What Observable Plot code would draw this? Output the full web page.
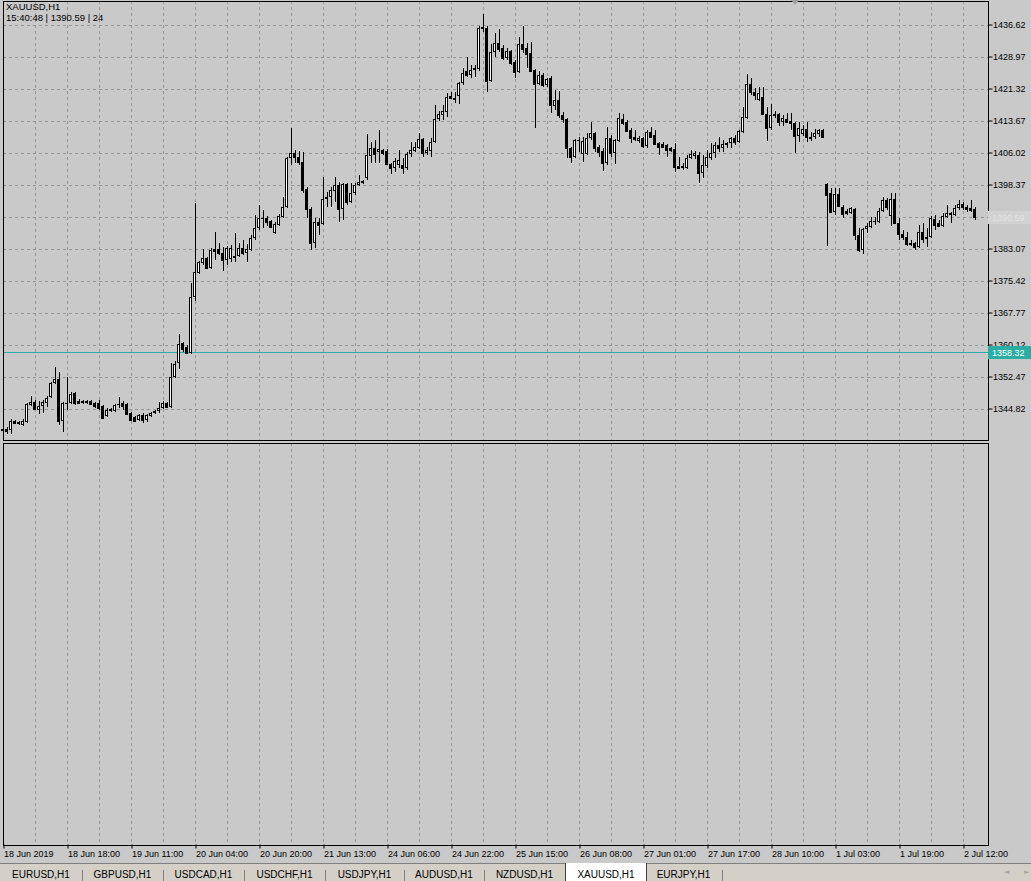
<!DOCTYPE html>
<html>
<head>
<meta charset="utf-8">
<script src="https://cdn.jsdelivr.net/npm/d3@7"></script>
<script src="https://cdn.jsdelivr.net/npm/@observablehq/plot@0.6"></script>
<style>
  html, body { margin:0; padding:0; background:#c9c9c9; }
  #wrap { position:relative; width:1031px; height:881px; overflow:hidden; background:#c9c9c9; font-family:"Liberation Sans", Arial, sans-serif; }
  #main { position:absolute; left:0; top:0; }
  #sub { position:absolute; left:0; top:442px; }
  .info { position:absolute; left:6px; font-size:9.5px; line-height:11px; color:#000; white-space:pre; }
  #tabs { position:absolute; left:0; top:863px; width:1031px; height:18px; background:#d4d0c8; border-top:1px solid #808080; }
  .tab { position:absolute; top:0; height:18px; font-size:10px; line-height:22px; text-align:center; color:#000; }
  .tab.active { background:#fff; top:-1px; height:19px; line-height:24px; border-left:1px solid #404040; border-right:1px solid #404040; }
  .sep { position:absolute; top:6px; width:1px; height:12px; background:#808080; }
  .arrow { position:absolute; top:4px; font-family:"DejaVu Sans", sans-serif; font-size:7px; color:#a8a8a8; }
  #shift { position:absolute; left:791px; top:0; width:0; height:0; border-left:4px solid transparent; border-right:4px solid transparent; border-top:5px solid #a0a0a0; }
</style>
</head>
<body>
<div id="wrap">
  <div id="main"></div>
  <div id="sub"></div>
  <div id="shift"></div>
  <div class="info" style="top:1px">XAUUSD,H1</div>
  <div class="info" style="top:12px">15:40:48 | 1390.59 | 24</div>
  <div id="tabs"></div>
</div>
<script>
// ---- data (XAUUSD H1, bars 18 Jun 2019 02:00 .. 2 Jul 2019 15:00) ----
const open = [1339.55,1340.02,1339.79,1341.93,1341.69,1340.98,1341.69,1345.75,1346.46,1344.56,1345.51,1346.22,1347.66,1351.00,1351.95,1341.93,1345.99,1346.22,1348.61,1346.70,1346.22,1346.22,1346.70,1346.22,1346.22,1345.51,1343.13,1344.32,1344.32,1345.75,1346.22,1345.99,1343.84,1342.89,1342.17,1343.37,1342.17,1343.13,1343.84,1344.32,1345.03,1346.22,1345.27,1352.43,1355.77,1360.53,1359.58,1358.15,1371.51,1377.24,1379.61,1380.81,1378.43,1382.96,1382.96,1382.00,1380.33,1380.57,1381.29,1381.29,1383.19,1382.00,1382.72,1385.58,1387.96,1390.11,1390.35,1389.63,1386.77,1388.68,1390.59,1392.97,1404.66,1405.85,1404.90,1403.70,1397.27,1392.50,1384.38,1389.39,1388.92,1394.88,1395.36,1396.79,1398.22,1392.50,1398.46,1394.16,1396.31,1398.22,1398.70,1399.89,1405.14,1407.04,1406.09,1406.57,1406.33,1403.22,1402.27,1402.99,1402.99,1402.27,1405.61,1406.33,1407.04,1409.19,1405.85,1406.33,1408.48,1413.96,1414.91,1415.63,1419.45,1419.09,1419.45,1422.55,1425.41,1424.46,1425.65,1425.88,1435.66,1435.90,1423.02,1429.94,1432.09,1430.89,1428.51,1430.18,1427.55,1425.17,1431.85,1430.89,1429.70,1425.65,1422.31,1424.46,1422.07,1423.74,1417.06,1418.49,1414.91,1413.96,1407.04,1404.90,1408.71,1405.61,1405.61,1409.43,1410.62,1407.28,1406.33,1403.46,1409.43,1405.85,1408.71,1413.96,1413.24,1411.34,1409.67,1408.71,1409.43,1407.52,1410.86,1410.15,1408.24,1407.99,1407.76,1407.04,1406.81,1402.75,1402.27,1402.27,1404.66,1405.14,1405.38,1401.08,1402.75,1404.66,1405.85,1407.76,1407.04,1407.76,1408.24,1409.43,1408.48,1410.86,1414.20,1422.31,1420.40,1418.49,1419.21,1415.15,1411.81,1414.67,1415.15,1413.24,1413.96,1413.48,1413.00,1409.91,1410.38,1411.58,1409.67,1409.67,1410.38,1411.34,1398.46,1396.31,1391.78,1396.07,1392.97,1392.02,1391.54,1392.50,1386.30,1382.72,1387.73,1388.20,1389.39,1389.39,1392.02,1394.64,1390.83,1394.88,1389.15,1386.53,1385.82,1384.38,1384.38,1383.43,1387.01,1385.34,1385.82,1390.11,1389.15,1388.44,1390.59,1391.06,1391.06,1392.73,1393.69,1392.97,1392.73,1392.50];
const high = [1340.50,1340.50,1342.41,1342.17,1341.93,1342.41,1346.22,1347.90,1346.94,1346.70,1346.94,1347.90,1351.23,1354.81,1353.62,1346.46,1352.43,1348.85,1348.85,1347.18,1346.94,1346.94,1346.94,1346.46,1346.94,1345.75,1345.03,1345.03,1345.99,1347.66,1346.70,1346.22,1344.08,1343.13,1343.61,1343.84,1343.61,1344.08,1344.56,1346.46,1346.70,1346.46,1355.77,1356.24,1362.69,1360.77,1360.06,1374.85,1393.92,1380.09,1382.96,1381.05,1383.19,1387.01,1384.38,1383.43,1383.67,1383.91,1386.77,1384.38,1385.10,1384.15,1386.30,1391.06,1393.45,1392.26,1390.83,1389.87,1389.39,1391.30,1395.36,1404.90,1411.82,1406.57,1406.33,1406.09,1397.74,1392.97,1390.35,1390.35,1400.13,1396.55,1397.74,1400.13,1398.93,1398.70,1398.70,1398.70,1398.70,1400.60,1399.41,1410.39,1408.48,1408.95,1411.34,1406.81,1406.81,1403.46,1404.66,1406.57,1404.66,1406.09,1408.48,1408.48,1410.62,1409.43,1407.28,1409.43,1417.30,1415.87,1417.30,1420.16,1420.40,1420.40,1422.79,1426.12,1428.75,1426.84,1426.84,1436.38,1439.24,1436.38,1431.85,1434.47,1435.66,1431.61,1430.89,1430.42,1428.03,1433.52,1436.38,1432.09,1432.32,1425.88,1425.41,1424.93,1423.74,1424.22,1420.88,1420.64,1415.63,1414.20,1407.28,1409.19,1409.67,1409.67,1410.62,1413.24,1410.86,1407.76,1407.04,1412.05,1410.15,1409.19,1415.39,1415.15,1413.72,1411.81,1411.34,1409.91,1409.67,1411.34,1412.05,1411.34,1408.48,1408.48,1407.99,1407.28,1408.24,1404.90,1403.46,1405.38,1406.57,1406.33,1406.09,1405.38,1406.57,1408.24,1408.48,1409.67,1408.95,1408.48,1409.67,1410.15,1411.34,1416.82,1424.69,1423.74,1421.35,1421.59,1421.59,1416.82,1417.54,1415.87,1415.39,1414.91,1415.39,1415.39,1413.24,1413.24,1412.53,1413.24,1410.86,1411.58,1411.58,1411.58,1398.70,1397.50,1397.50,1397.50,1393.45,1392.50,1392.97,1392.73,1387.96,1387.96,1389.15,1390.59,1390.59,1392.73,1395.36,1395.12,1396.31,1396.31,1390.35,1387.49,1387.01,1385.10,1384.62,1388.68,1389.15,1387.96,1390.83,1391.06,1389.87,1391.54,1393.45,1391.78,1393.45,1394.64,1394.16,1393.45,1394.64,1392.97];
const low = [1339.07,1338.84,1338.84,1341.22,1340.98,1340.74,1341.45,1345.51,1344.56,1343.61,1343.84,1345.27,1347.42,1350.76,1340.98,1339.31,1344.56,1345.99,1345.75,1345.99,1345.99,1345.99,1345.75,1345.03,1344.56,1342.41,1342.89,1344.08,1344.08,1345.03,1344.56,1343.37,1341.93,1341.69,1341.93,1341.45,1341.69,1342.89,1343.61,1343.84,1344.79,1345.03,1345.03,1352.19,1354.34,1358.39,1357.91,1357.91,1370.55,1377.00,1379.14,1378.19,1378.19,1380.33,1381.53,1377.71,1379.14,1379.85,1379.85,1381.05,1381.53,1379.85,1382.48,1385.10,1387.49,1387.96,1388.44,1387.96,1386.53,1388.44,1390.35,1392.73,1402.99,1403.46,1402.99,1396.31,1390.35,1382.72,1383.19,1386.30,1388.68,1392.97,1392.97,1394.16,1389.39,1389.87,1393.45,1393.92,1395.83,1397.98,1398.46,1399.41,1403.46,1403.46,1403.46,1405.38,1402.99,1400.84,1401.32,1402.27,1400.84,1401.80,1404.90,1406.09,1406.81,1404.90,1405.38,1404.90,1408.24,1413.48,1413.72,1414.44,1418.73,1417.97,1417.54,1422.07,1423.98,1423.74,1423.98,1425.41,1434.71,1420.40,1422.79,1428.75,1429.94,1428.03,1428.03,1426.84,1423.74,1424.93,1429.70,1426.12,1425.17,1411.81,1422.07,1421.59,1421.59,1415.39,1416.11,1414.20,1413.00,1404.66,1403.46,1404.66,1406.09,1403.70,1405.38,1408.95,1406.09,1404.90,1401.56,1402.99,1404.90,1403.22,1408.48,1412.53,1410.86,1408.24,1408.71,1408.24,1407.04,1407.04,1409.43,1407.76,1405.38,1407.04,1404.90,1406.09,1401.32,1402.03,1401.80,1402.03,1404.42,1404.42,1398.70,1399.89,1402.27,1404.18,1404.66,1406.09,1406.09,1407.04,1407.04,1407.76,1408.24,1410.62,1413.96,1419.69,1418.49,1418.25,1414.91,1408.71,1411.34,1414.20,1412.29,1412.29,1413.00,1411.34,1405.85,1408.48,1409.91,1408.48,1408.71,1409.19,1409.67,1409.43,1383.67,1391.54,1391.06,1392.97,1390.35,1391.06,1391.30,1385.10,1382.24,1381.76,1386.77,1387.96,1388.68,1389.15,1391.78,1392.26,1388.44,1388.92,1385.10,1385.10,1383.67,1383.67,1382.72,1383.19,1384.38,1383.43,1385.58,1387.49,1388.20,1388.20,1390.35,1389.15,1390.83,1392.26,1392.26,1391.78,1391.78,1389.87];
const close = [1340.02,1339.55,1341.93,1341.45,1341.33,1341.93,1345.99,1346.46,1344.79,1345.51,1346.46,1347.42,1351.00,1351.95,1341.93,1346.22,1346.22,1348.37,1346.22,1346.22,1346.58,1346.70,1345.99,1345.51,1345.03,1342.65,1344.56,1344.67,1345.75,1345.99,1345.51,1343.61,1342.17,1341.93,1343.37,1342.17,1343.37,1343.84,1344.32,1345.03,1346.22,1345.27,1352.43,1355.53,1360.30,1359.10,1358.15,1371.51,1377.47,1379.85,1380.81,1378.43,1382.72,1382.48,1382.00,1380.33,1383.19,1383.19,1381.05,1383.19,1382.00,1382.96,1385.58,1387.96,1390.35,1390.35,1389.39,1388.20,1388.92,1390.83,1392.97,1404.66,1405.85,1404.90,1403.70,1397.03,1392.50,1384.38,1389.39,1388.68,1394.88,1395.36,1397.03,1398.22,1392.50,1398.46,1394.16,1396.31,1398.22,1398.93,1399.17,1405.38,1407.04,1405.61,1406.81,1405.97,1403.22,1402.27,1403.94,1404.18,1402.27,1405.61,1406.57,1407.28,1409.19,1405.85,1406.57,1408.48,1413.96,1415.15,1415.87,1419.21,1418.97,1418.73,1422.55,1424.93,1424.46,1425.65,1426.12,1435.90,1436.14,1423.02,1429.94,1432.09,1430.65,1428.51,1430.18,1427.32,1425.17,1431.85,1430.65,1429.46,1425.41,1422.31,1424.46,1422.07,1423.50,1417.30,1418.49,1414.91,1413.96,1407.04,1404.90,1408.95,1408.95,1408.71,1409.43,1410.62,1407.04,1406.09,1403.46,1409.43,1405.85,1408.95,1414.20,1413.00,1411.10,1409.43,1409.31,1409.43,1407.52,1410.86,1409.67,1407.99,1407.28,1407.40,1406.57,1406.57,1402.51,1402.27,1402.75,1404.66,1405.61,1405.85,1401.08,1402.99,1404.90,1405.85,1407.76,1407.04,1407.99,1408.24,1409.43,1408.48,1411.10,1414.44,1422.31,1420.40,1419.69,1420.16,1415.15,1411.81,1414.91,1415.15,1413.24,1414.20,1413.24,1413.00,1409.91,1411.81,1411.58,1409.67,1409.43,1410.62,1411.34,1409.67,1395.83,1391.78,1396.07,1393.21,1391.30,1391.54,1392.73,1386.30,1382.72,1387.73,1388.44,1389.63,1389.63,1392.02,1394.64,1392.97,1394.88,1389.15,1386.53,1385.82,1384.15,1384.15,1383.43,1387.01,1385.34,1385.82,1390.35,1388.68,1388.44,1390.83,1391.54,1391.54,1392.73,1393.69,1392.97,1392.50,1392.38,1390.59];

const priceTicks = [1436.62,1428.97,1421.32,1413.67,1406.02,1398.37,1390.72,1383.07,1375.42,1367.77,1360.12,1352.47,1344.82];
const hiddenTickLabel = 1390.72; // covered by the bid tag in the original
const timeTickBars = [0,16,32,48,64,80,96,112,128,144,160,176,192,208,224,240];
const timeLabels = ["18 Jun 2019","18 Jun 18:00","19 Jun 11:00","20 Jun 04:00","20 Jun 20:00","21 Jun 13:00","24 Jun 06:00","24 Jun 22:00","25 Jun 15:00","26 Jun 08:00","27 Jun 01:00","27 Jun 17:00","28 Jun 10:00","1 Jul 03:00","1 Jul 19:00","2 Jul 12:00"];
const gridBars = [8,16,24,32,40,48,56,64,72,80,88,96,104,112,120,128,136,144,152,160,168,176,184,192,200,208,216,224,232,240];
const hLinePrice = 1358.32;
const bidPrice = 1390.59;
const tabNames = ["EURUSD,H1","GBPUSD,H1","USDCAD,H1","USDCHF,H1","USDJPY,H1","AUDUSD,H1","NZDUSD,H1","XAUUSD,H1","EURJPY,H1"];
const activeTab = "XAUUSD,H1";

// ---- build ----
const bars = open.map((o, i) => ({i, o, h: high[i], l: low[i], c: close[i], up: close[i] >= o}));
const half = 0.375;
const GRID = "#959595";
const fontStyle = {background: "transparent", fontFamily: "Liberation Sans, Arial, sans-serif", fontSize: "9px", color: "#000", overflow: "visible"};
const xOpt = {type: "linear", domain: [0, 243], range: [2.5, 974.5], axis: null, label: null};

const main = Plot.plot({
  width: 1031, height: 440,
  marginLeft: 2.5, marginRight: 43.5, marginTop: 0.5, marginBottom: 0.5,
  x: xOpt,
  y: {type: "linear", domain: [1344.82, 1436.62], range: [408.5, 24.5], axis: null, label: null},
  style: fontStyle,
  marks: [
    Plot.ruleY(priceTicks, {stroke: GRID, strokeDasharray: "3,3", shapeRendering: "crispEdges"}),
    Plot.ruleX(gridBars, {stroke: GRID, strokeDasharray: "3,3", shapeRendering: "crispEdges"}),
    Plot.ruleY([hLinePrice], {stroke: "#2aaea4", shapeRendering: "crispEdges"}),
    Plot.ruleX(bars, {x: "i", y1: "l", y2: "h", stroke: "#000", shapeRendering: "crispEdges"}),
    Plot.rect(bars, {x1: d => d.i - half, x2: d => d.i + half, y1: "o", y2: "c", fill: "#000", shapeRendering: "crispEdges"}),
    Plot.ruleY(bars, {y: "c", x1: d => d.i - half, x2: d => d.i + half, stroke: "#000", shapeRendering: "crispEdges"}),
    Plot.rect(bars.filter(d => d.up), {x1: d => d.i - half, x2: d => d.i + half, y1: "o", y2: "c", fill: "#fff", inset: 1, shapeRendering: "crispEdges"}),
    Plot.axisY(priceTicks, {anchor: "right", tickSize: 4, tickPadding: 1, label: null, stroke: "#000", fill: "#000",
      tickFormat: d => d === hiddenTickLabel ? "" : d.toFixed(2)}),
    Plot.frame({stroke: "#000", shapeRendering: "crispEdges"})
  ]
});
document.getElementById("main").appendChild(main);

// price tags on the price scale (positions from the plot's own y scale)
const ys = main.scale("y");
const tagX = 1031 - 43.5 + 0.5;
function priceTag(price, fill, textFill) {
  const yy = Math.round(ys.apply(price));
  const g = d3.select(main).append("g").attr("text-anchor", "start");
  g.append("rect").attr("x", tagX).attr("y", yy - 6).attr("width", 1031 - tagX).attr("height", 13).attr("fill", fill);
  g.append("text").attr("x", tagX + 4).attr("y", yy + 0.5).attr("dy", "0.35em").attr("text-anchor", "start")
    .attr("font-family", "Liberation Sans, Arial, sans-serif").attr("font-size", 9).attr("fill", textFill)
    .text(price.toFixed(2));
}
priceTag(bidPrice, "#d2d2d2", "#e2e2e2");
priceTag(hLinePrice, "#2aaea4", "#ffffff");

const sub = Plot.plot({
  width: 1031, height: 422,
  marginLeft: 2.5, marginRight: 43.5, marginTop: 0.5, marginBottom: 19.5,
  x: xOpt,
  y: {domain: [0, 1], axis: null},
  style: fontStyle,
  marks: [
    Plot.ruleX(gridBars, {stroke: GRID, strokeDasharray: "3,3", shapeRendering: "crispEdges"}),
    Plot.axisX(timeTickBars, {anchor: "bottom", tickSize: 4, tickPadding: 2, textAnchor: "start", dx: 1,
      tickFormat: d => timeLabels[timeTickBars.indexOf(d)], label: null, stroke: "#000", fill: "#000"}),
    Plot.frame({stroke: "#000", shapeRendering: "crispEdges"})
  ]
});
document.getElementById("sub").appendChild(sub);

// ---- tab bar ----
const tabEdges = [0, 82, 163, 244, 325, 404, 484, 565, 645, 722];
const tabs = document.getElementById("tabs");
tabNames.forEach((name, k) => {
  const el = document.createElement("div");
  el.className = "tab" + (name === activeTab ? " active" : "");
  el.style.left = tabEdges[k] + "px";
  el.style.width = (tabEdges[k + 1] - tabEdges[k]) + "px";
  el.textContent = name;
  tabs.appendChild(el);
});
[82, 163, 244, 325, 404, 484, 722].forEach(x => {
  const s = document.createElement("div");
  s.className = "sep"; s.style.left = x + "px"; tabs.appendChild(s);
});
[["\u25C4", 1004], ["\u25BA", 1024]].forEach(([ch, x]) => {
  const a = document.createElement("div");
  a.className = "arrow"; a.style.left = x + "px"; a.textContent = ch; tabs.appendChild(a);
});
</script>
</body>
</html>
